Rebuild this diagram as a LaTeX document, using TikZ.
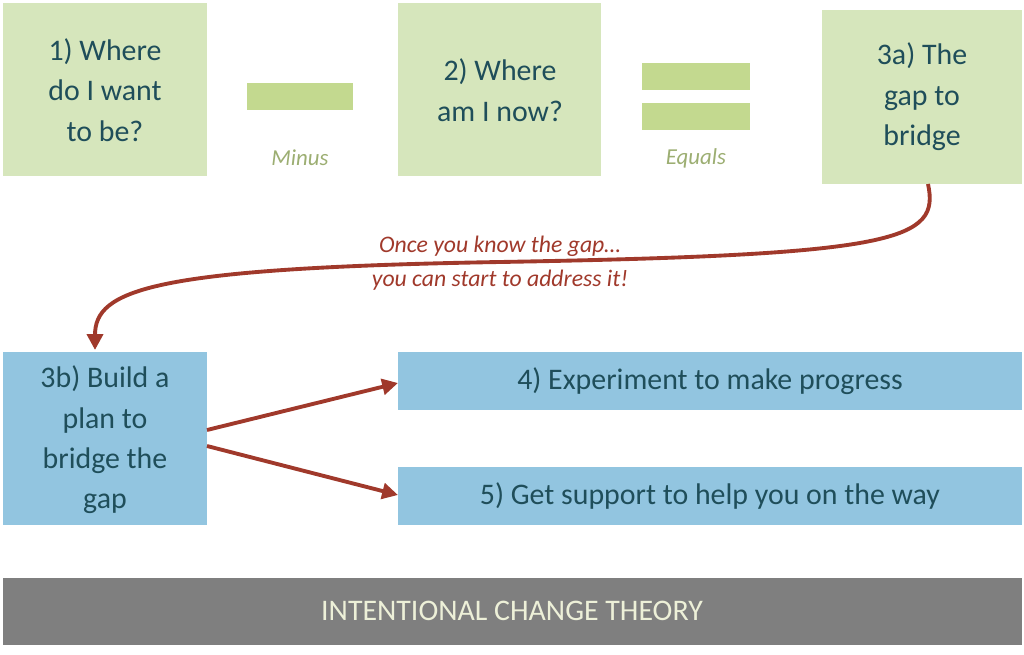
\documentclass[tikz,border=0pt]{standalone}
\usepackage{fontspec}
\setmainfont{Carlito}
\usetikzlibrary{arrows.meta}
\definecolor{greenbox}{HTML}{D6E6BC}
\definecolor{greenbar}{HTML}{C3D98F}
\definecolor{bluebox}{HTML}{92C5E0}
\definecolor{tealtext}{HTML}{1F4E5A}
\definecolor{redarrow}{HTML}{A0392B}
\definecolor{graybar}{HTML}{7F7F7F}
\definecolor{creamtext}{HTML}{EDF0D8}
\tikzset{
  px/.style={x=0.02cm, y=-0.02cm},
  stepbox/.style={draw=none, align=center, text=tealtext, inner sep=0pt,
    font=\fontsize{17}{23}\selectfont},
  signlabel/.style={text=greenbar!80!black, font=\fontsize{13}{15}\selectfont\itshape},
  redline/.style={draw=redarrow, line width=2.2pt, -{Triangle[length=9pt,width=9pt]}}
}
\begin{document}
\begin{tikzpicture}[px]
  \useasboundingbox (0,0) rectangle (1024,655);
  % top row
  \fill[greenbox] (3,3) rectangle (207,176);
  \node[stepbox] (want) at (105,90) {1) Where\\do I want\\to be?};
  \fill[greenbar] (247,83) rectangle (353,110);
  \node[signlabel] (minus) at (300,158) {Minus};
  \fill[greenbox] (398,3) rectangle (601,176);
  \node[stepbox] (now) at (500,90) {2) Where\\am I now?};
  \fill[greenbar] (642,63) rectangle (750,90);
  \fill[greenbar] (642,103) rectangle (750,130);
  \node[signlabel] (equals) at (696,158) {Equals};
  \fill[greenbox] (822,10) rectangle (1022,184);
  \coordinate (gapbot) at (928,184);
  \node[stepbox] (gapa) at (922,97) {3a) The\\gap to\\bridge};
  % middle
  \fill[bluebox] (3,352) rectangle (207,525);
  \coordinate (plantop) at (95,350);
  \node[stepbox] (plan) at (105,440) {3b) Build a\\plan to\\bridge the\\gap};
  \fill[bluebox] (398,352) rectangle (1022,410);
  \node[stepbox] (exper) at (710,381) {4) Experiment to make progress};
  \fill[bluebox] (398,467) rectangle (1022,525);
  \node[stepbox] (support) at (710,496) {5) Get support to help you on the way};
  \coordinate (planA) at (207,430);
  \coordinate (planB) at (207,446);
  \coordinate (experL) at (398,383);
  \coordinate (supportL) at (398,495);
  \draw[redline] (gapbot) .. controls (940,240) and (900,255) .. (500,262)
    .. controls (150,268) and (95,290) .. (plantop);
  \node[text=redarrow, align=center, font=\fontsize{13.5}{19}\selectfont\itshape] (once)
    at (500,263) {Once you know the gap\ldots\\you can start to address it!};
  \draw[redline] (planA) -- (experL);
  \draw[redline] (planB) -- (supportL);
  % bottom bar
  \fill[graybar] (3,578) rectangle (1022,645);
  \node[text=creamtext, font=\fontsize{17}{20}\selectfont] (title) at (512,611) {INTENTIONAL CHANGE THEORY};
\end{tikzpicture}
\end{document}
